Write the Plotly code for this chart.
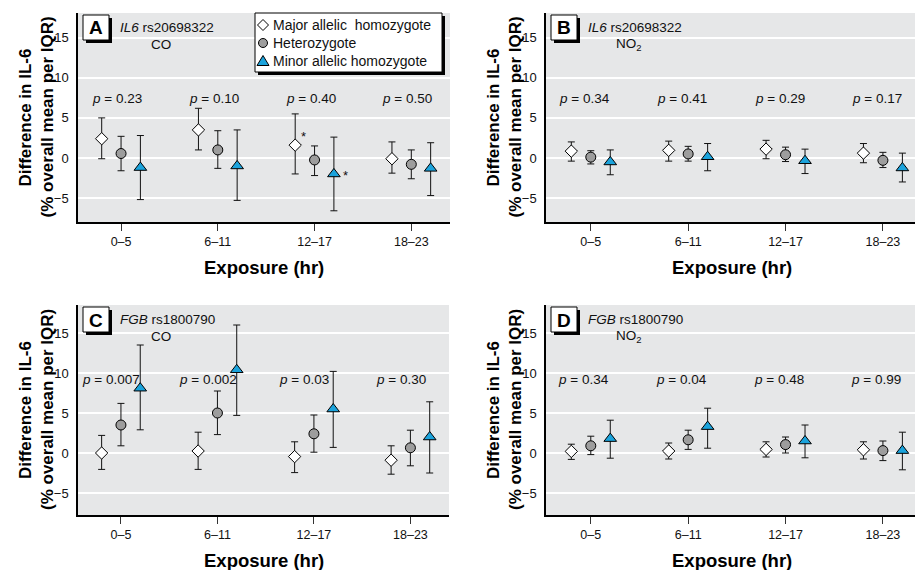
import plotly.graph_objects as go

FW, FH = 915, 562   # figure size (page body has an 8px margin)
OX, OY = 8, 8
FONT = "Liberation Sans, Arial, sans-serif"

categories = ["0–5", "6–11", "12–17", "18–23"]
series_names = ["Major allelic  homozygote", "Heterozygote", "Minor allelic homozygote"]

# Panel A: IL6 rs20698322, CO
A_major = [2.4, 3.5, 1.6, -0.1]
A_major_hi = [5.0, 6.2, 5.5, 2.0]
A_major_lo = [-0.1, 1.0, -2.0, -1.9]
A_het = [0.55, 1.0, -0.25, -0.8]
A_het_hi = [2.7, 3.4, 1.5, 1.0]
A_het_lo = [-1.6, -1.3, -2.2, -2.6]
A_minor = [-1.2, -1.0, -2.0, -1.3]
A_minor_hi = [2.8, 3.5, 2.6, 1.9]
A_minor_lo = [-5.2, -5.3, -6.6, -4.7]
A_p = ["0.23", "0.10", "0.40", "0.50"]

# Panel B: IL6 rs20698322, NO2
B_major = [0.85, 0.95, 1.1, 0.6]
B_major_hi = [2.0, 2.1, 2.2, 1.8]
B_major_lo = [-0.4, -0.4, -0.1, -0.6]
B_het = [0.1, 0.5, 0.4, -0.3]
B_het_hi = [0.9, 1.45, 1.35, 0.7]
B_het_lo = [-0.75, -0.4, -0.45, -1.2]
B_minor = [-0.5, 0.15, -0.35, -1.25]
B_minor_hi = [1.0, 1.8, 1.1, 0.6]
B_minor_lo = [-2.1, -1.6, -1.95, -3.0]
B_p = ["0.34", "0.41", "0.29", "0.17"]

# Panel C: FGB rs1800790, CO
C_major = [0.0, 0.25, -0.45, -0.9]
C_major_hi = [2.2, 2.6, 1.4, 0.9]
C_major_lo = [-2.05, -2.05, -2.45, -2.65]
C_het = [3.5, 5.0, 2.4, 0.65]
C_het_hi = [6.2, 7.75, 4.75, 2.85]
C_het_lo = [0.9, 2.3, 0.1, -1.6]
C_minor = [8.1, 10.4, 5.5, 2.0]
C_minor_hi = [13.5, 16.0, 10.2, 6.4]
C_minor_lo = [2.9, 4.7, 0.7, -2.5]
C_p = ["0.007", "0.002", "0.03", "0.30"]

# Panel D: FGB rs1800790, NO2
D_major = [0.2, 0.25, 0.45, 0.4]
D_major_hi = [1.1, 1.25, 1.4, 1.4]
D_major_lo = [-0.8, -0.75, -0.5, -0.75]
D_het = [0.9, 1.65, 1.05, 0.3]
D_het_hi = [2.1, 2.85, 2.0, 1.5]
D_het_lo = [-0.2, 0.45, 0.0, -0.95]
D_minor = [1.8, 3.3, 1.5, 0.3]
D_minor_hi = [4.1, 5.6, 3.5, 2.6]
D_minor_lo = [-0.65, 0.6, -0.6, -2.1]
D_p = ["0.34", "0.04", "0.48", "0.99"]

# significance asterisks (panel A, 12–17)
A_star_major = [False, False, True, False]
A_star_minor = [False, False, True, False]

y_ticks = [-5, 0, 5, 10, 15]

panels = [
    dict(key="A", gene="IL6", snp="rs20698322", pol="CO",
         data=[(A_major, A_major_hi, A_major_lo), (A_het, A_het_hi, A_het_lo), (A_minor, A_minor_hi, A_minor_lo)],
         p=A_p, box=(78, 450, 13, 222), xr=[-0.445, 3.40], yr=[-8.0, 18.1], py=7.4, pdx=-0.04),
    dict(key="B", gene="IL6", snp="rs20698322", pol="NO<sub>2</sub>",
         data=[(B_major, B_major_hi, B_major_lo), (B_het, B_het_hi, B_het_lo), (B_minor, B_minor_hi, B_minor_lo)],
         p=B_p, box=(546, 917, 13, 222), xr=[-0.46, 3.35], yr=[-8.0, 18.1], py=7.4, pdx=-0.06),
    dict(key="C", gene="FGB", snp="rs1800790", pol="CO",
         data=[(C_major, C_major_hi, C_major_lo), (C_het, C_het_hi, C_het_lo), (C_minor, C_minor_hi, C_minor_lo)],
         p=C_p, box=(78, 449, 305, 515), xr=[-0.445, 3.40], yr=[-7.75, 18.5], py=9.2, pdx=-0.1),
    dict(key="D", gene="FGB", snp="rs1800790", pol="NO<sub>2</sub>",
         data=[(D_major, D_major_hi, D_major_lo), (D_het, D_het_hi, D_het_lo), (D_minor, D_minor_hi, D_minor_lo)],
         p=D_p, box=(546, 917, 305, 515), xr=[-0.46, 3.35], yr=[-7.75, 18.5], py=9.2, pdx=-0.07),
]

styles = [
    dict(symbol="diamond", size=9.5, color="white", off=-0.2),
    dict(symbol="circle", size=10, color="#9d9d9d", off=0.0),
    dict(symbol="triangle-up", size=11, color="#1ba3dc", off=0.2),
]


def px(x):
    return (x - OX) / FW


def py_(y):
    return 1 - (y - OY) / FH


def ann(x, y, text, size, xanchor="center", yanchor="middle", **kw):
    d = dict(x=x, y=y, xref="paper", yref="paper", text=text, showarrow=False,
             xanchor=xanchor, yanchor=yanchor,
             font=dict(family=FONT, size=size, color=kw.pop("color", "#111")))
    d.update(kw)
    return d


fig = go.Figure()
annotations = []
shapes = []
BG = "#e6e7e8"

for i, pn in enumerate(panels):
    n = i + 1
    xa = "x" if n == 1 else f"x{n}"
    ya = "y" if n == 1 else f"y{n}"
    l, r, t, b = pn["box"]
    xkey = "xaxis" if n == 1 else f"xaxis{n}"
    ykey = "yaxis" if n == 1 else f"yaxis{n}"
    fig.update_layout(**{
        xkey: dict(domain=[px(l), px(r)], range=pn["xr"], anchor=ya,
                   tickvals=list(range(len(categories))), ticktext=categories,
                   ticks="outside", ticklen=7, tickcolor="#333", tickwidth=1,
                   showline=True, linecolor="black", linewidth=1.5,
                   showgrid=False, zeroline=False, automargin=False,
                   tickfont=dict(family=FONT, size=12.5, color="#111")),
        ykey: dict(domain=[py_(b), py_(t)], range=pn["yr"], anchor=xa,
                   tickvals=y_ticks, ticks="", showline=True, linecolor="black", linewidth=1.5,
                   showgrid=True, gridcolor="white", gridwidth=1.5,
                   zeroline=True, zerolinecolor="white", zerolinewidth=1.5, automargin=False,
                   tickfont=dict(family=FONT, size=13, color="#111"), ticklabelstandoff=5),
    })
    shapes.append(dict(type="rect", xref=f"{xa} domain", yref=f"{ya} domain", x0=0, x1=1, y0=0, y1=1,
                       fillcolor=BG, line=dict(width=0), layer="below"))
    for s, (vals, hi, lo) in zip(styles, pn["data"]):
        xs = [k + s["off"] for k in range(len(categories))]
        fig.add_trace(go.Scatter(
            x=xs, y=vals, xaxis=xa, yaxis=ya, mode="markers", showlegend=False,
            marker=dict(symbol=s["symbol"], size=s["size"], color=s["color"],
                        line=dict(color="black", width=1)),
            error_y=dict(type="data", symmetric=False,
                         array=[h - v for h, v in zip(hi, vals)],
                         arrayminus=[v - lo_ for v, lo_ in zip(vals, lo)],
                         color="#111", thickness=1, width=3.5),
        ))
    for k, pv in enumerate(pn["p"]):
        annotations.append(dict(x=k + pn["pdx"], y=pn["py"], xref=xa, yref=ya,
                                xanchor="center", yanchor="middle",
                                text=f"<i>p</i> = {pv}", showarrow=False,
                                font=dict(family=FONT, size=13.5, color="#111")))
    # panel label box with shadow
    bx0, by0 = l + 5, t + 2
    shapes.append(dict(type="rect", xref="paper", yref="paper",
                       x0=px(bx0 + 3), x1=px(bx0 + 29), y0=py_(by0 + 28), y1=py_(by0 + 3),
                       fillcolor="black", line=dict(width=0)))
    shapes.append(dict(type="rect", xref="paper", yref="paper",
                       x0=px(bx0), x1=px(bx0 + 26), y0=py_(by0 + 25), y1=py_(by0),
                       fillcolor="white", line=dict(color="black", width=1)))
    annotations.append(ann(px(bx0 + 13), py_(by0 + 13), f"<b>{pn['key']}</b>", 19, color="black"))
    annotations.append(ann(px(l + 40), py_(t + 14), f"<i>{pn['gene']}</i> {pn['snp']}", 13.5, xanchor="left"))
    annotations.append(ann(px(l + 83), py_(t + 32), pn["pol"], 13.5))
    annotations.append(ann(px((l + r) / 2), py_(b + 45), "<b>Exposure (hr)</b>", 18.5, color="black"))
    annotations.append(ann(px(l - 53), py_((t + b) / 2), "<b>Difference in IL-6</b>", 17,
                           textangle=-90, color="black"))
    annotations.append(ann(px(l - 31), py_((t + b) / 2), "<b>(% overall mean per IQR)</b>", 17,
                           textangle=-90, color="black"))

for k in range(len(categories)):
    if A_star_major[k]:
        annotations.append(dict(x=k - 0.2, y=A_major[k], xref="x", yref="y", text="*", showarrow=False,
                                xanchor="center", yanchor="middle",
                                xshift=8, yshift=9, font=dict(family=FONT, size=13, color="#111")))
    if A_star_minor[k]:
        annotations.append(dict(x=k + 0.2, y=A_minor[k], xref="x", yref="y", text="*", showarrow=False,
                                xanchor="center", yanchor="middle",
                                xshift=12, yshift=-2, font=dict(family=FONT, size=13, color="#111")))

# legend (manual, inside panel A)
lx0, ly0, lx1, ly1 = 255, 13, 442, 72
shapes.append(dict(type="rect", xref="paper", yref="paper", x0=px(lx0 + 3), x1=px(lx1 + 3),
                   y0=py_(ly1 + 3), y1=py_(ly0 + 3), fillcolor="black", line=dict(width=0)))
shapes.append(dict(type="rect", xref="paper", yref="paper", x0=px(lx0), x1=px(lx1),
                   y0=py_(ly1), y1=py_(ly0), fillcolor="white", line=dict(color="black", width=1)))
rows = [25, 43, 61]
mx = 263
d = 5.5
shapes.append(dict(type="path", xref="paper", yref="paper",
                   path=f"M {px(mx-d)} {py_(rows[0])} L {px(mx)} {py_(rows[0]-d)} L {px(mx+d)} {py_(rows[0])} L {px(mx)} {py_(rows[0]+d)} Z",
                   fillcolor="white", line=dict(color="black", width=1)))
shapes.append(dict(type="circle", xref="paper", yref="paper",
                   x0=px(mx - 4.5), x1=px(mx + 4.5), y0=py_(rows[1] + 4.5), y1=py_(rows[1] - 4.5),
                   fillcolor="#9d9d9d", line=dict(color="black", width=1)))
shapes.append(dict(type="path", xref="paper", yref="paper",
                   path=f"M {px(mx-6)} {py_(rows[2]+4.5)} L {px(mx+6)} {py_(rows[2]+4.5)} L {px(mx)} {py_(rows[2]-5.5)} Z",
                   fillcolor="#1ba3dc", line=dict(color="black", width=1)))
for name, ry in zip(series_names, rows):
    annotations.append(ann(px(mx + 8), py_(ry), name.replace("  ", "&nbsp; "), 14, xanchor="left"))

fig.update_layout(width=FW, height=FH, margin=dict(l=0, r=0, t=0, b=0),
                  paper_bgcolor="white", plot_bgcolor="rgba(0,0,0,0)",
                  shapes=shapes, annotations=annotations, showlegend=False,
                  font=dict(family=FONT))
fig.write_html("out.html")
